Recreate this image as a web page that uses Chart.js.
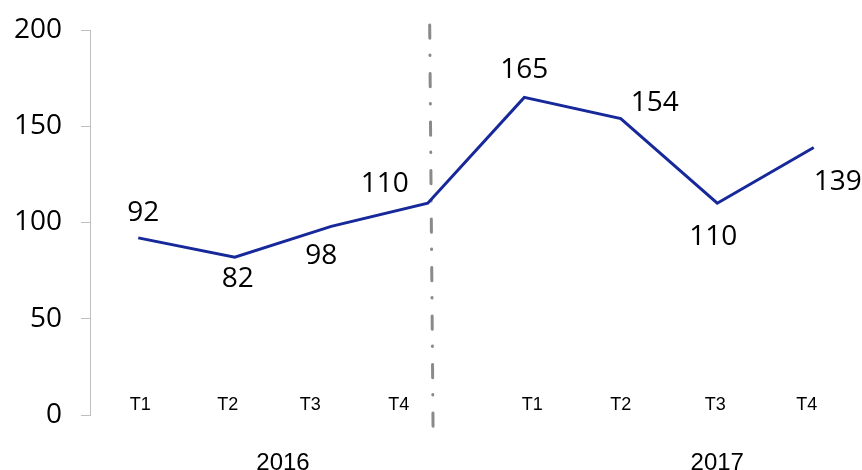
<!DOCTYPE html>
<html>
<head>
<meta charset="utf-8">
<script src="https://cdn.jsdelivr.net/npm/chart.js@4/dist/chart.umd.min.js"></script>
<style>
  html, body { margin: 0; padding: 0; background: #fff; }
  #wrap { width: 862px; height: 470px; }
</style>
</head>
<body>
<div id="wrap"><canvas id="c" width="862" height="470"></canvas></div>
<script>
// Quarterly figures, 2016–2017
const quarters = ['T1', 'T2', 'T3', 'T4', 'T1', 'T2', 'T3', 'T4'];
const years = ['2016', '2017'];
const values = [92, 82, 98, 110, 165, 154, 110, 139];
const yTicks = [0, 50, 100, 150, 200];

// Text placement (pixels relative to each point / category)
const valueLabelShift = [[5, -27], [3, 20], [-10, 28], [-43, -21], [0, -29], [34, -18], [-4, 32], [24, 33]];
const quarterShift = [2, -7, -21, -29, 8, 0, -2, -7];
const yearAt = [1.5, 6.0];
const dividerAt = [3.02, 3.055];

const numFont = "'Open Sans', 'Noto Sans', sans-serif";
const axisFont = "'Liberation Sans', Arial, sans-serif";

const annotate = {
  id: 'annotate',
  beforeDatasetsDraw(chart) {
    const { ctx, chartArea, scales: { x } } = chart;
    ctx.save();
    ctx.strokeStyle = '#8a8a8a';
    ctx.lineWidth = 3;
    ctx.lineCap = 'round';
    ctx.setLineDash([13.3, 16.7, 0.5, 18]);
    ctx.beginPath();
    ctx.moveTo(x.getPixelForValue(dividerAt[0]), chartArea.top - 5);
    ctx.lineTo(x.getPixelForValue(dividerAt[1]), chartArea.bottom + 13);
    ctx.stroke();
    ctx.restore();
  },
  afterDatasetsDraw(chart) {
    const { ctx, chartArea, scales: { x } } = chart;
    const meta = chart.getDatasetMeta(0);
    ctx.save();
    ctx.fillStyle = '#000';
    ctx.textAlign = 'center';
    ctx.textBaseline = 'alphabetic';

    // value labels
    ctx.font = '28px ' + numFont;
    meta.data.forEach((pt, i) => {
      const [dx, dy] = valueLabelShift[i];
      ctx.fillText(String(values[i]), pt.x + dx, pt.y + dy + 10);
    });

    // quarter labels
    ctx.font = '18px ' + axisFont;
    quarters.forEach((q, i) => {
      ctx.fillText(q, x.getPixelForValue(i) + quarterShift[i], chartArea.bottom - 5);
    });

    // year labels
    ctx.font = '24px ' + axisFont;
    years.forEach((yr, i) => {
      ctx.fillText(yr, x.getPixelForValue(yearAt[i]), chart.height);
    });
    ctx.restore();
  }
};

new Chart(document.getElementById('c'), {
  type: 'line',
  data: {
    labels: quarters,
    datasets: [{
      data: values,
      borderColor: '#16289a',
      borderWidth: 3,
      pointRadius: 0,
      tension: 0,
      fill: false
    }]
  },
  options: {
    responsive: false,
    animation: false,
    events: [],
    layout: { padding: { top: 30, bottom: 55, left: 0, right: 0 } },
    plugins: { legend: { display: false }, tooltip: { enabled: false } },
    scales: {
      x: {
        type: 'category',
        display: false,
        offset: true
      },
      y: {
        min: 0,
        max: 200,
        afterBuildTicks: (s) => { s.ticks = yTicks.map(v => ({ value: v })); },
        afterFit: (s) => { s.width = 90; s.paddingTop = 0; s.paddingBottom = 0; },
        grid: {
          display: true,
          drawOnChartArea: false,
          drawTicks: true,
          tickLength: 9,
          color: '#bfbfbf',
          lineWidth: 1
        },
        border: { display: true, color: '#bfbfbf', width: 1 },
        ticks: {
          padding: 19,
          color: '#000',
          font: { family: numFont, size: 28 }
        }
      }
    }
  },
  plugins: [annotate]
});
</script>
</body>
</html>
